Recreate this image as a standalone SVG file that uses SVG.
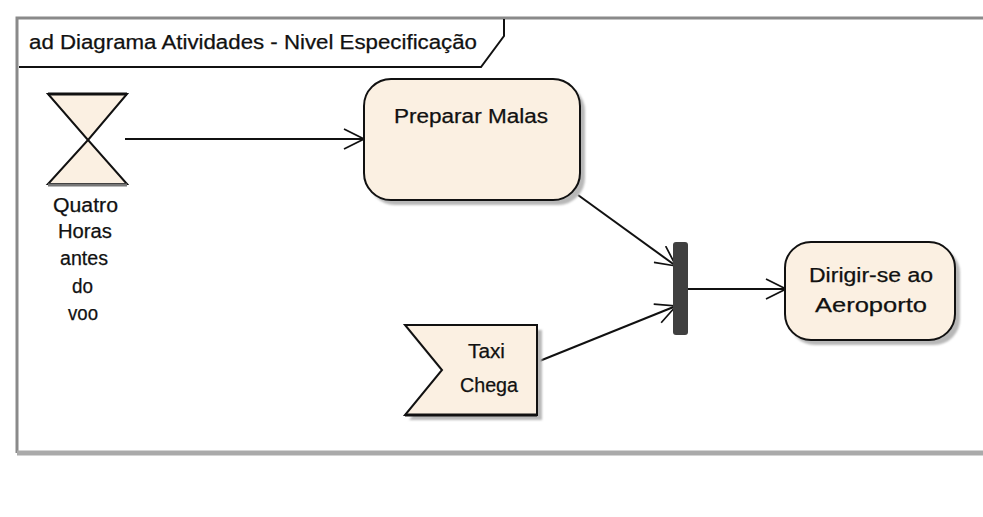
<svg xmlns="http://www.w3.org/2000/svg" width="983" height="517" viewBox="0 0 983 517">
  <style>
    .lbl { font-family: "Liberation Sans", Arial, sans-serif; font-size: 20px; fill: #111; stroke: #111; stroke-width: 0.25; }
    .node { fill: #FBF0E2; stroke: #111; stroke-width: 2; }
    .shadow { fill: #b8b8b8; }
    .edge { fill: none; stroke: #111; stroke-width: 2; }
  </style>
  <defs>
    <marker id="open" viewBox="0 0 22 22" refX="21" refY="11" markerWidth="22" markerHeight="22" markerUnits="userSpaceOnUse" orient="auto">
      <path d="M1,1 L21,11 L1,21" fill="none" stroke="#111" stroke-width="1.7"/>
    </marker>
    <filter id="soft" x="-10%" y="-10%" width="130%" height="130%">
      <feGaussianBlur stdDeviation="1.2"/>
    </filter>
  </defs>

  <rect width="983" height="517" fill="#fff"/>

  <!-- diagram frame -->
  <g id="frame">
    <path d="M983,18 L17,18 L17,453" fill="none" stroke="#8a8a8a" stroke-width="3"/>
    <line x1="17" y1="453" x2="983" y2="453" stroke="#aaa" stroke-width="5"/>
    <path d="M19,67 L481,67 L504,36 L504,19" fill="none" stroke="#111" stroke-width="2"/>
    <text class="lbl" x="29" y="49" textLength="448" lengthAdjust="spacingAndGlyphs">ad Diagrama Atividades - Nivel Especificação</text>
  </g>

  <!-- connectors -->
  <g id="edges">
    <line class="edge" x1="125" y1="139" x2="364" y2="139" marker-end="url(#open)"/>
    <line class="edge" x1="578" y1="195" x2="676" y2="266" marker-end="url(#open)"/>
    <line class="edge" x1="537" y1="362" x2="676" y2="306" marker-end="url(#open)"/>
    <line class="edge" x1="688" y1="289" x2="786" y2="289" marker-end="url(#open)"/>
  </g>

  <!-- time event -->
  <g id="quatro-horas">
    <path d="M48,94 L127,94 L88,140 L127,184 L48,184 L88,140 Z" class="node" stroke-width="1.8"/>
    <line x1="48" y1="94" x2="127" y2="94" stroke="#111" stroke-width="3"/>
    <line x1="48" y1="185" x2="127" y2="185" stroke="#777" stroke-width="3"/>
    <g class="lbl">
      <text x="53" y="212" textLength="65" lengthAdjust="spacingAndGlyphs">Quatro</text>
      <text x="58" y="238" textLength="54" lengthAdjust="spacingAndGlyphs">Horas</text>
      <text x="60" y="265" textLength="48" lengthAdjust="spacingAndGlyphs">antes</text>
      <text x="72" y="293" textLength="21" lengthAdjust="spacingAndGlyphs">do</text>
      <text x="68" y="320" textLength="30" lengthAdjust="spacingAndGlyphs">voo</text>
    </g>
  </g>

  <!-- action: Preparar Malas -->
  <g id="preparar-malas">
    <rect class="shadow" x="368" y="84" width="217" height="121" rx="27" filter="url(#soft)"/>
    <rect class="node" x="364" y="79" width="216" height="121" rx="27"/>
    <text class="lbl" x="394" y="123" textLength="154" lengthAdjust="spacingAndGlyphs">Preparar Malas</text>
  </g>

  <!-- join bar -->
  <g id="join">
    <rect x="673" y="242" width="15" height="93" rx="3" fill="#404040"/>
  </g>

  <!-- accept event: Taxi Chega -->
  <g id="taxi-chega">
    <path class="shadow" d="M409,330 L542,330 L542,420 L409,420 L446,375 Z" filter="url(#soft)"/>
    <path class="node" d="M405,325 L537,325 L537,415 L405,415 L442,370 Z"/>
    <line x1="405" y1="415" x2="537" y2="415" stroke="#111" stroke-width="3"/>
    <g class="lbl">
      <text x="468" y="358" textLength="37" lengthAdjust="spacingAndGlyphs">Taxi</text>
      <text x="460" y="392" textLength="58" lengthAdjust="spacingAndGlyphs">Chega</text>
    </g>
  </g>

  <!-- action: Dirigir-se ao Aeroporto -->
  <g id="dirigir-aeroporto">
    <rect class="shadow" x="789" y="247" width="171" height="98" rx="26" filter="url(#soft)"/>
    <rect class="node" x="785" y="242" width="170" height="98" rx="26"/>
    <g class="lbl">
      <text x="809" y="282" textLength="124" lengthAdjust="spacingAndGlyphs">Dirigir-se ao</text>
      <text x="815" y="312" textLength="112" lengthAdjust="spacingAndGlyphs">Aeroporto</text>
    </g>
  </g>
</svg>
